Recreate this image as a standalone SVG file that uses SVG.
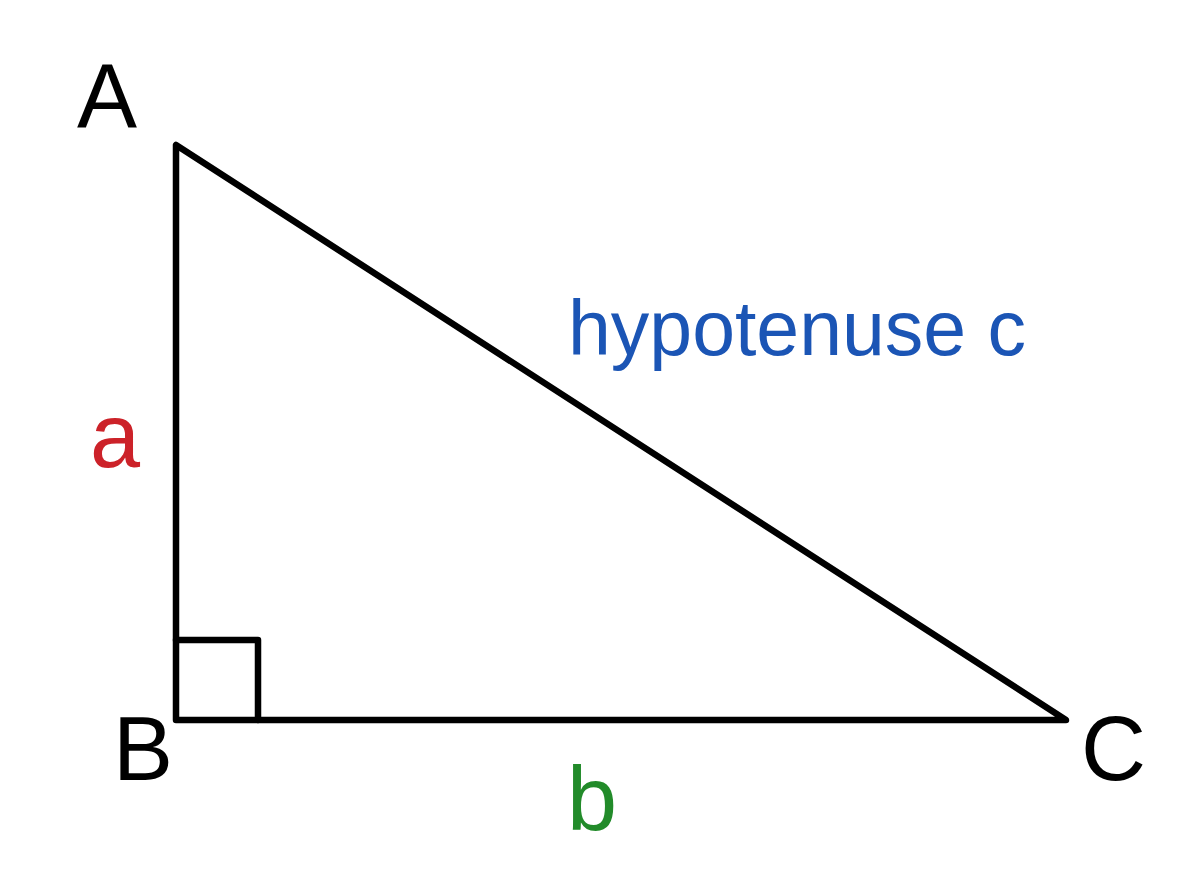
<svg xmlns="http://www.w3.org/2000/svg" width="1200" height="896" viewBox="0 0 1200 896">
<style>
.edge{fill:none;stroke:#000;stroke-width:6.5;stroke-linejoin:round;stroke-linecap:round}
.lbl{font-family:"Liberation Sans",Arial,sans-serif;font-size:90px}
</style>
<rect width="1200" height="896" fill="#fff"/>
<g id="connectors">
<polygon class="edge" points="176,145 176,720 1066,720"/>
<polyline class="edge" points="176,640 258,640 258,720"/>
</g>
<g id="vertex-A"><text class="lbl" x="77" y="127">A</text></g>
<g id="vertex-B"><text class="lbl" x="113" y="780">B</text></g>
<g id="vertex-C"><text class="lbl" x="1081" y="780">C</text></g>
<g id="side-a"><text class="lbl" x="90" y="467" fill="#cc2229">a</text></g>
<g id="side-b"><text class="lbl" x="567" y="830" fill="#228b2a">b</text></g>
<g id="side-c"><text class="lbl" x="568" y="355" fill="#1b55b5" style="font-size:77px">hypotenuse c</text></g>
</svg>
